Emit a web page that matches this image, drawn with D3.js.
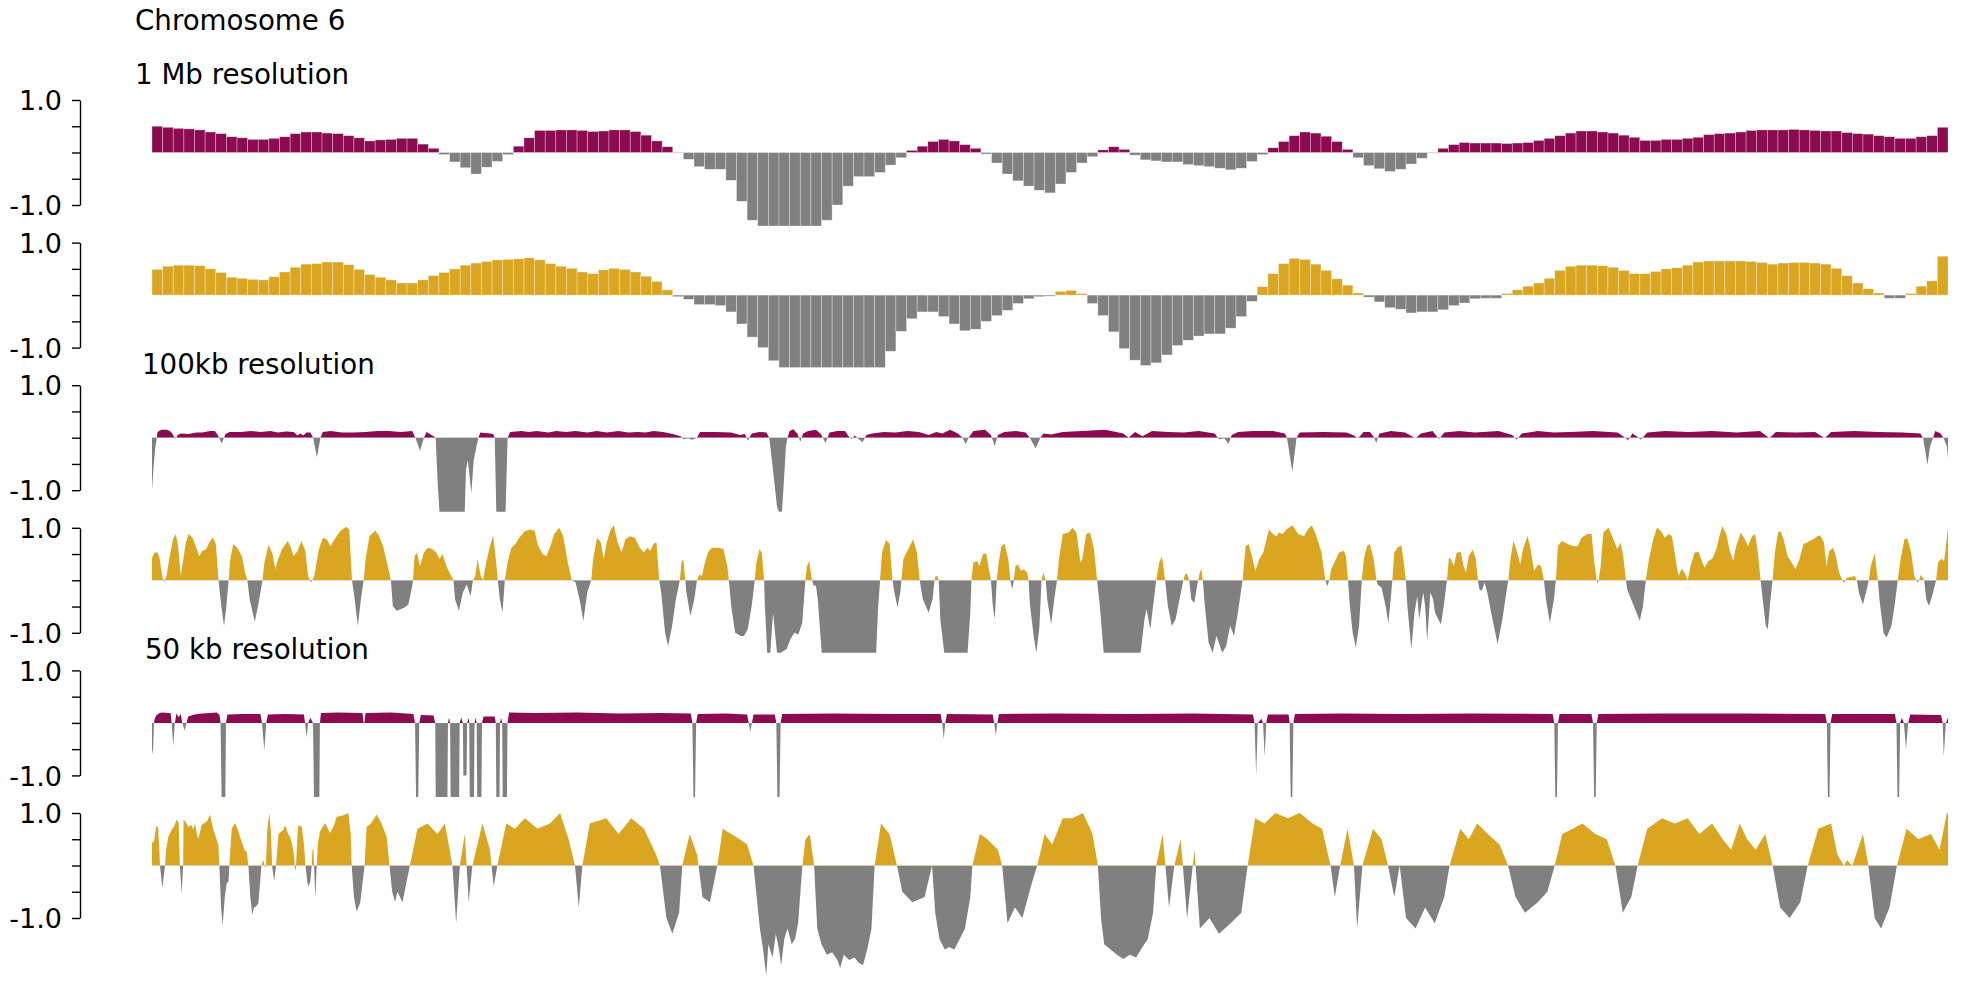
<!DOCTYPE html>
<html><head><meta charset="utf-8">
<script src="https://cdn.jsdelivr.net/npm/d3@7"></script>
<style>body{margin:0;background:#fff}</style>
</head><body>
<script>
// ---------------- DATA ----------------
const chromosomeTitle = "Chromosome 6";
const sectionLabels = ["1 Mb resolution", "100kb resolution", "50 kb resolution"];
const tickValues = [1.0, 0.5, 0, -0.5, -1.0];
const tickLabels = ["1.0", "", "", "", "-1.0"];
const chromLengthMb = 169;

// 1 Mb bins (169 bins), track A (magenta) and track B (gold)
const mb1_A = [0.50,0.48,0.46,0.45,0.43,0.39,0.36,0.30,0.28,0.25,
0.25,0.27,0.30,0.36,0.39,0.39,0.37,0.36,0.32,0.28,
0.22,0.24,0.25,0.27,0.27,0.16,0.08,-0.04,-0.18,-0.29,
-0.41,-0.28,-0.17,-0.04,0.12,0.28,0.42,0.42,0.43,0.43,
0.42,0.40,0.41,0.43,0.43,0.40,0.33,0.22,0.11,-0.01,
-0.13,-0.27,-0.32,-0.32,-0.53,-0.93,-1.29,-1.40,-1.40,-1.40,
-1.40,-1.40,-1.40,-1.29,-1.00,-0.64,-0.46,-0.46,-0.38,-0.24,
-0.10,0.04,0.12,0.21,0.25,0.22,0.15,0.08,-0.03,-0.20,
-0.41,-0.54,-0.64,-0.72,-0.77,-0.60,-0.38,-0.20,-0.08,0.05,
0.11,0.06,-0.05,-0.14,-0.16,-0.18,-0.18,-0.23,-0.25,-0.27,
-0.30,-0.33,-0.30,-0.17,-0.04,0.09,0.21,0.32,0.39,0.37,
0.31,0.21,0.06,-0.10,-0.25,-0.31,-0.36,-0.32,-0.22,-0.11,
-0.01,0.08,0.15,0.19,0.18,0.18,0.18,0.17,0.18,0.19,
0.23,0.27,0.32,0.37,0.41,0.41,0.39,0.37,0.33,0.29,
0.23,0.23,0.25,0.25,0.27,0.29,0.34,0.36,0.37,0.39,
0.42,0.43,0.43,0.43,0.44,0.43,0.42,0.41,0.41,0.38,
0.36,0.35,0.32,0.30,0.27,0.27,0.30,0.32,0.48];

const mb1_B = [0.49,0.55,0.57,0.57,0.56,0.50,0.43,0.34,0.32,0.30,
0.29,0.35,0.44,0.53,0.59,0.60,0.63,0.63,0.58,0.49,
0.39,0.34,0.29,0.23,0.23,0.29,0.37,0.43,0.50,0.57,
0.61,0.64,0.67,0.68,0.69,0.71,0.67,0.60,0.55,0.51,
0.44,0.41,0.48,0.51,0.49,0.44,0.36,0.26,0.10,-0.03,
-0.08,-0.18,-0.18,-0.20,-0.32,-0.55,-0.80,-1.00,-1.25,-1.38,
-1.38,-1.38,-1.38,-1.38,-1.38,-1.38,-1.38,-1.38,-1.38,-1.07,
-0.69,-0.45,-0.32,-0.32,-0.41,-0.55,-0.68,-0.65,-0.50,-0.39,
-0.29,-0.16,-0.07,-0.03,-0.02,0.07,0.09,0.03,-0.16,-0.39,
-0.70,-1.02,-1.24,-1.34,-1.29,-1.14,-0.96,-0.86,-0.78,-0.74,
-0.74,-0.63,-0.41,-0.12,0.16,0.41,0.60,0.70,0.68,0.59,
0.47,0.31,0.19,0.04,-0.04,-0.13,-0.24,-0.27,-0.34,-0.32,
-0.32,-0.28,-0.20,-0.15,-0.07,-0.06,-0.06,0.03,0.10,0.17,
0.23,0.32,0.47,0.55,0.57,0.57,0.56,0.53,0.47,0.41,
0.41,0.45,0.50,0.52,0.57,0.63,0.65,0.65,0.65,0.65,
0.64,0.62,0.59,0.61,0.62,0.62,0.61,0.59,0.51,0.37,
0.23,0.12,0.04,-0.06,-0.06,0.03,0.17,0.27,0.74];

// 100 kb profile, [position Mb, value]
const kb100_A = [[0,-1.0],[0.15,-0.55],[0.3,-0.2],[0.45,0],[0.52,0.11],[0.88,0.15],[1.43,0.15],[1.8,0.11],[2.09,0.02],[2.24,-0.03],[2.42,0.05],[2.71,0.08],[3.45,0.07],[4.18,0.1],[4.73,0.1],[5.46,0.13],[5.9,0.13],[6.19,0.05],[6.56,-0.11],[6.92,0.07],[7.29,0.11],[8.39,0.11],[9.3,0.13],[10.22,0.11],[11.13,0.13],[11.86,0.1],[12.6,0.12],[13.33,0.11],[13.69,0.04],[13.95,0.08],[14.24,0.04],[14.53,0.1],[14.9,0.1],[15.16,0],[15.52,-0.37],[15.85,0],[16.07,0.11],[16.8,0.13],[17.9,0.1],[19.0,0.1],[20.1,0.11],[21.2,0.13],[22.3,0.13],[23.4,0.11],[24.49,0.13],[24.78,0],[25.22,-0.25],[25.59,0],[25.84,0.11],[26.14,0.07],[26.5,0.03],[26.69,0],[26.9,-0.93],[27.05,-1.41],[29.43,-1.41],[29.54,-0.62],[29.72,-0.43],[30.05,-1.06],[30.27,-0.43],[30.53,-0.17],[30.71,0],[30.9,0.1],[31.81,0.08],[32.1,0.07],[32.25,0],[32.4,-1.41],[33.27,-1.41],[33.46,0],[33.71,0.11],[34.74,0.13],[35.47,0.11],[36.2,0.13],[37.3,0.1],[38.03,0.13],[38.95,0.11],[39.86,0.13],[40.96,0.1],[41.87,0.13],[42.79,0.1],[43.89,0.13],[44.8,0.1],[45.72,0.11],[46.45,0.1],[47.18,0.13],[48.1,0.11],[49.0,0.07],[49.74,0.03],[50.0,-0.03],[50.5,-0.01],[50.8,-0.04],[51.28,0],[51.57,0.11],[53.0,0.11],[54.5,0.1],[55.33,0.05],[55.8,0.07],[56.06,-0.06],[56.43,0.08],[57.16,0.11],[57.82,0.1],[58.08,0],[58.44,-0.62],[58.81,-1.31],[58.99,-1.41],[59.28,-1.41],[59.43,-0.93],[59.65,-0.17],[59.8,0],[60.0,0.13],[60.35,0.16],[60.75,0.07],[61.0,-0.08],[61.26,0.08],[61.74,0.13],[62.47,0.15],[62.94,0.07],[63.38,-0.1],[63.75,0.1],[64.48,0.13],[65.21,0.13],[65.58,0.02],[65.83,-0.03],[66.13,0.04],[66.49,-0.03],[66.86,-0.08],[67.23,0.05],[67.77,0.08],[68.87,0.11],[69.97,0.1],[71.07,0.13],[72.17,0.11],[73.08,0.05],[73.81,0.11],[74.36,0.08],[75.1,0.15],[75.83,0.08],[76.27,0],[76.56,-0.12],[76.85,0],[77.29,0.13],[78.39,0.15],[78.94,0.05],[79.3,-0.16],[79.6,0.05],[80.2,0.11],[81.3,0.13],[82.2,0.1],[82.6,0],[83.15,-0.2],[83.6,0],[83.9,0.08],[84.6,0.06],[85.7,0.11],[87.5,0.13],[89.7,0.15],[91.4,0.08],[91.9,0],[92.5,0.11],[93.2,0.03],[94.1,0.13],[95.6,0.11],[97.1,0.1],[98.5,0.13],[100.0,0.08],[100.4,-0.03],[100.9,-0.01],[101.3,-0.12],[101.6,0.05],[102.2,0.11],[103.6,0.13],[105.5,0.13],[106.6,0.08],[106.8,0],[107.3,-0.65],[107.7,0],[108.0,0.1],[110.2,0.11],[112.4,0.1],[113.0,0.05],[113.5,-0.01],[114.0,0.11],[114.6,0.11],[114.96,0.02],[115.2,-0.1],[115.5,0.08],[116.6,0.13],[117.9,0.1],[118.9,-0.01],[119.4,0.08],[120.5,0.13],[121.1,-0.03],[121.6,0.1],[123.0,0.13],[124.5,0.1],[126.7,0.13],[128.0,0.05],[128.4,-0.04],[128.9,0.08],[130.4,0.13],[131.9,0.1],[133.4,0.11],[135.6,0.13],[137.9,0.1],[138.5,0.02],[138.9,-0.06],[139.3,0.08],[139.7,0.03],[140.1,-0.04],[140.7,0.1],[142.4,0.13],[144.6,0.11],[146.8,0.13],[149.1,0.1],[151.3,0.13],[152.2,-0.01],[152.8,0.11],[154.6,0.1],[156.5,0.11],[157.4,-0.01],[158.0,0.11],[160.2,0.13],[162.5,0.11],[164.7,0.1],[166.4,0.08],[166.65,0],[166.9,-0.3],[167.06,-0.52],[167.3,-0.17],[167.6,0],[167.8,0.13],[168.3,0.08],[168.6,-0.01],[168.9,-0.17],[169.0,-0.41]];

const kb100_B = [[0,0.43],[0.26,0.53],[0.52,0.53],[0.7,0.43],[0.96,0.08],[1.14,-0.03],[1.36,0.08],[1.62,0.4],[1.98,0.78],[2.24,0.88],[2.46,0.65],[2.71,0.08],[2.9,0.34],[3.19,0.72],[3.45,0.88],[3.81,0.81],[4.18,0.62],[4.43,0.46],[4.73,0.56],[5.09,0.59],[5.46,0.75],[5.75,0.81],[6.01,0.69],[6.26,0],[6.52,-0.49],[6.78,-0.87],[7.0,-0.49],[7.21,0],[7.36,0.4],[7.65,0.69],[8.02,0.62],[8.46,0.46],[8.75,0.15],[8.97,0],[9.19,-0.36],[9.67,-0.79],[10.03,-0.43],[10.4,0],[10.58,0.34],[10.95,0.67],[11.31,0.53],[11.61,0.21],[11.86,0.4],[12.23,0.59],[12.78,0.75],[13.07,0.62],[13.33,0.46],[13.69,0.56],[14.06,0.75],[14.43,0.56],[14.68,0.08],[14.97,-0.04],[15.27,0.08],[15.71,0.59],[16.07,0.81],[16.44,0.78],[16.8,0.65],[17.17,0.78],[17.72,0.94],[18.27,1.02],[18.56,0.97],[18.82,0],[19.07,-0.36],[19.37,-0.87],[19.66,-0.36],[19.92,0],[20.1,0.4],[20.46,0.84],[21.01,0.95],[21.38,0.84],[21.75,0.65],[22.11,0.34],[22.48,0],[22.66,-0.49],[23.03,-0.58],[23.39,-0.55],[23.76,-0.52],[24.12,-0.46],[24.49,-0.11],[24.56,0],[24.71,0.46],[24.93,0.53],[25.22,0.27],[25.59,0.53],[25.95,0.62],[26.32,0.6],[26.76,0.53],[27.05,0.4],[27.34,0.5],[27.71,0.27],[28.15,0.08],[28.37,0],[28.52,-0.36],[28.88,-0.58],[29.25,-0.23],[29.61,-0.08],[29.98,-0.3],[30.2,0],[30.42,0.08],[30.64,0.4],[30.93,0.08],[31.15,0],[31.44,0.34],[31.81,0.65],[32.1,0.86],[32.36,0.4],[32.54,0],[32.73,-0.36],[32.98,-0.62],[33.2,0],[33.46,0.34],[33.82,0.62],[34.19,0.69],[34.55,0.81],[35.1,0.94],[35.65,0.97],[36.02,0.94],[36.27,0.69],[36.75,0.5],[37.12,0.46],[37.48,0.65],[37.85,0.88],[38.32,1.0],[38.69,0.84],[39.13,0.34],[39.5,0],[39.86,-0.04],[40.23,-0.36],[40.59,-0.77],[40.96,-0.23],[41.33,0],[41.51,0.4],[41.88,0.81],[42.24,0.72],[42.5,0.4],[42.79,0.72],[43.16,0.97],[43.45,1.05],[43.82,0.72],[44.18,0.53],[44.55,0.78],[44.99,0.84],[45.43,0.81],[45.9,0.62],[46.27,0.53],[46.63,0.62],[46.89,0.56],[47.18,0.69],[47.47,0.72],[47.73,0],[47.91,-0.23],[48.28,-1.0],[48.57,-1.25],[48.94,-0.87],[49.3,-0.36],[49.67,0],[49.82,0.34],[50.0,0.4],[50.18,0],[50.29,-0.23],[50.66,-0.68],[51.03,-0.36],[51.28,0],[51.5,0.11],[51.76,0.08],[51.94,0.27],[52.31,0.53],[52.67,0.62],[53.4,0.62],[53.77,0.59],[54.14,0.27],[54.28,0],[54.5,-0.49],[54.87,-1.0],[55.42,-1.06],[55.7,-1.06],[56.06,-0.93],[56.43,-0.49],[56.72,0],[56.87,0.34],[57.16,0.59],[57.38,0.53],[57.6,0],[57.67,-0.49],[57.89,-1.38],[58.18,-1.38],[58.44,-0.62],[58.81,-1.38],[59.17,-1.38],[59.72,-1.31],[60.09,-1.12],[60.45,-1.0],[60.82,-1.03],[61.19,-0.81],[61.48,0],[61.63,0.27],[61.84,0.37],[62.1,0],[62.28,-0.11],[62.47,-0.1],[62.65,-0.36],[63.02,-1.38],[68.14,-1.38],[68.32,-0.55],[68.51,0],[68.69,0.53],[69.06,0.77],[69.42,0.69],[69.68,0],[69.86,-0.23],[70.15,-0.52],[70.41,-0.23],[70.52,0],[70.7,0.4],[71.07,0.56],[71.62,0.78],[71.98,0.53],[72.24,0],[72.53,-0.36],[73.08,-0.62],[73.45,-0.36],[73.63,0],[73.74,0.08],[73.89,0.08],[74.03,0],[74.18,-0.74],[74.55,-1.38],[76.74,-1.38],[77.0,-0.62],[77.11,0],[77.29,0.34],[77.66,0.37],[77.84,0.27],[78.2,0.5],[78.5,0.51],[78.75,0.21],[78.94,0],[79.12,-0.49],[79.3,-0.74],[79.49,0],[79.67,0.34],[79.93,0.65],[80.22,0.7],[80.58,0.4],[80.77,0],[80.95,-0.17],[81.1,0],[81.24,0.27],[81.5,0.3],[81.76,0.18],[82.05,0.21],[82.34,0.15],[82.49,0],[82.6,-0.43],[82.96,-1.06],[83.22,-1.38],[83.51,-0.87],[83.7,0],[83.88,0.15],[84.1,0],[84.24,-0.36],[84.61,-0.84],[84.9,-0.36],[85.16,0],[85.34,0.4],[85.71,0.88],[86.26,0.91],[86.62,1.0],[86.99,0.91],[87.36,0.34],[87.54,0.4],[87.9,0.88],[88.27,0.91],[88.64,0.59],[88.93,0],[89.19,-0.49],[89.55,-1.38],[93.03,-1.38],[93.39,-0.74],[93.58,-0.55],[93.94,-0.93],[94.2,-0.49],[94.49,0],[94.78,0.34],[95.04,0.46],[95.33,0],[95.59,-0.49],[95.96,-0.87],[96.32,-0.74],[96.69,-0.36],[97.05,0],[97.24,0.13],[97.42,0.11],[97.6,0],[97.79,-0.36],[98.08,-0.43],[98.34,-0.11],[98.44,0],[98.59,0.15],[98.74,0.21],[98.88,0],[99.07,-0.49],[99.43,-1.19],[99.8,-1.38],[100.16,-1.06],[100.71,-1.38],[101.08,-1.25],[101.45,-0.87],[101.81,-1.06],[102.18,-0.62],[102.62,0],[102.91,0.65],[103.2,0.69],[103.57,0.4],[103.83,0.18],[104.19,0.4],[104.56,0.53],[105.11,0.97],[105.47,0.88],[105.84,0.84],[106.02,0.91],[106.39,0.88],[106.75,0.97],[107.3,1.05],[107.85,0.88],[108.4,0.84],[108.77,0.97],[109.13,1.05],[109.5,0.88],[110.05,0.53],[110.41,0],[110.6,-0.11],[110.78,0],[110.96,0.21],[111.33,0.37],[111.69,0.53],[112.16,0.56],[112.35,0.46],[112.54,0],[112.72,-0.49],[112.98,-1.0],[113.28,-1.28],[113.58,-0.87],[113.84,0],[114.03,0.4],[114.32,0.65],[114.59,0.69],[114.96,0.4],[115.22,0],[115.33,-0.08],[115.7,-0.14],[116.08,-0.49],[116.34,-0.82],[116.56,-0.36],[116.71,0],[116.9,0.53],[117.19,0.62],[117.57,0.67],[117.83,0.27],[117.98,0],[118.13,-0.49],[118.5,-1.31],[118.8,-0.62],[119.06,-0.3],[119.24,-0.74],[119.62,-0.23],[119.8,-0.49],[119.99,-1.16],[120.29,-0.23],[120.55,-0.36],[120.73,-0.62],[121.03,-0.74],[121.29,-0.84],[121.55,-0.49],[121.85,0],[122.04,0.43],[122.23,0.4],[122.49,0.27],[122.78,0.53],[123.16,0.54],[123.42,0.27],[123.64,0.15],[123.9,0.46],[124.28,0.58],[124.57,0.4],[124.76,0],[124.91,-0.17],[125.13,-0.2],[125.39,-0.04],[125.65,-0.23],[125.95,-0.55],[126.33,-0.93],[126.62,-1.22],[127.07,-0.74],[127.44,-0.23],[127.63,0],[127.82,0.4],[128.11,0.75],[128.38,0.59],[128.75,0.3],[129.01,0.59],[129.42,0.84],[129.68,0.65],[130.05,0.18],[130.43,0.3],[130.72,0.27],[130.98,0],[131.17,-0.36],[131.54,-0.81],[131.92,-0.36],[132.1,0],[132.29,0.65],[132.66,0.75],[133.22,0.69],[133.78,0.65],[134.15,0.65],[134.52,0.81],[135.08,0.88],[135.46,0.88],[135.72,0.34],[135.94,0],[136.02,-0.06],[136.13,0],[136.31,0.27],[136.57,0.91],[137.06,1.0],[137.51,0.78],[137.88,0.59],[138.18,0.72],[138.44,0.46],[138.7,0],[138.81,-0.17],[139.18,-0.36],[139.56,-0.55],[140.0,-0.77],[140.3,-0.49],[140.56,0],[140.86,0.4],[141.23,0.75],[141.61,1.0],[141.98,0.94],[142.35,0.81],[142.72,0.88],[143.02,0.84],[143.28,0.53],[143.47,0.27],[143.66,0.08],[143.92,0.22],[144.21,0.15],[144.51,0],[144.77,0.27],[145.15,0.53],[145.52,0.54],[145.78,0.4],[146.08,0.24],[146.45,0.37],[146.82,0.41],[147.2,0.59],[147.49,0.84],[147.76,1.03],[148.13,0.88],[148.5,0.53],[148.8,0.37],[149.06,0.65],[149.51,0.91],[149.88,0.78],[150.18,0.65],[150.55,0.84],[150.85,0.88],[151.11,0.53],[151.37,0],[151.56,-0.36],[151.86,-0.87],[152.04,-0.93],[152.3,-0.36],[152.49,0],[152.71,0.53],[153.01,0.91],[153.23,0.94],[153.53,0.78],[153.9,0.46],[154.28,0.34],[154.65,0.21],[155.02,0.4],[155.4,0.69],[155.77,0.72],[155.95,0.75],[156.33,0.78],[156.7,0.84],[156.96,0.86],[157.33,0.72],[157.56,0.27],[157.82,0.56],[158.19,0.62],[158.45,0.46],[158.75,0.15],[159.05,0],[159.2,-0.04],[159.35,0],[159.5,0.05],[160.24,0.08],[160.43,0],[160.61,-0.23],[160.99,-0.46],[161.36,-0.17],[161.55,0],[161.73,0.27],[162.1,0.51],[162.4,0],[162.55,-0.36],[162.93,-1.0],[163.22,-1.09],[163.67,-0.87],[163.97,-0.49],[164.27,0],[164.53,0.4],[164.9,0.78],[165.16,0.8],[165.53,0.53],[165.83,0.08],[166.02,0],[166.13,-0.04],[166.28,0],[166.43,0.1],[166.62,0.05],[166.76,0],[166.95,-0.36],[167.21,-0.49],[167.51,-0.3],[167.88,0],[168.07,0.34],[168.37,0.41],[168.63,0.37],[168.81,0.65],[169.0,1.03]];

// 50 kb profile, [position Mb, value]
const kb50_A = [[0,-0.6],[0.1,-0.5],[0.19,0],[0.25,0.08],[0.4,0.14],[0.7,0.19],[1.0,0.2],[1.5,0.19],[1.75,0.19],[1.85,0],[2.0,-0.44],[2.15,0],[2.3,0.18],[2.5,0.11],[2.7,0.17],[2.85,0],[3.07,-0.15],[3.25,0],[3.4,0.12],[4.0,0.16],[4.7,0.18],[5.5,0.19],[6.1,0.2],[6.35,0.15],[6.45,0],[6.55,-1.41],[6.9,-1.41],[6.96,0],[7.1,0.16],[8.5,0.17],[10.2,0.17],[10.35,0],[10.57,-0.52],[10.75,0],[10.9,0.16],[12.5,0.17],[14.3,0.16],[14.4,0],[14.55,-0.28],[14.7,0],[14.9,0.1],[15.15,0],[15.24,-1.41],[15.75,-1.41],[15.8,0],[15.9,0.19],[17.5,0.2],[19.8,0.19],[19.95,-0.05],[20.1,0.19],[22.5,0.2],[24.6,0.17],[24.75,0],[24.85,-1.41],[25.05,-1.41],[25.15,0],[25.3,0.15],[26.5,0.14],[26.65,0],[26.7,-1.41],[27.8,-1.41],[27.85,0],[27.95,0.1],[28.05,0],[28.1,-1.41],[28.9,-1.41],[28.95,0],[29.1,0.1],[29.25,0],[29.3,-1.0],[29.6,-1.0],[29.65,0],[29.8,0.1],[29.85,0],[29.9,-1.41],[30.3,-1.41],[30.35,0],[30.45,0.1],[30.55,0],[30.6,-1.41],[31.0,-1.41],[31.05,0],[31.2,0.12],[32.25,0.12],[32.35,0],[32.4,-1.41],[32.7,-1.41],[32.75,0],[32.85,0.1],[32.95,0],[33.0,-1.41],[33.4,-1.41],[33.45,0],[33.6,0.2],[36.0,0.19],[40.0,0.2],[44.0,0.18],[48.0,0.19],[50.7,0.18],[50.85,0],[50.95,-1.41],[51.1,-1.41],[51.2,0],[51.35,0.17],[54.0,0.18],[56.0,0.16],[56.15,0],[56.3,-0.17],[56.45,0],[56.6,0.16],[58.6,0.16],[58.75,0],[58.85,-1.41],[59.05,-1.41],[59.15,0],[59.3,0.17],[64.0,0.18],[70.0,0.17],[74.2,0.17],[74.35,0],[74.5,-0.3],[74.65,0],[74.8,0.17],[79.1,0.16],[79.25,0],[79.4,-0.24],[79.55,0],[79.7,0.17],[85.0,0.18],[92.0,0.17],[98.0,0.18],[103.6,0.16],[103.75,0],[103.9,-1.0],[104.05,0],[104.4,0.08],[104.55,0],[104.7,-0.64],[104.85,0],[105.0,0.16],[106.95,0.16],[107.05,0],[107.15,-1.41],[107.3,-1.41],[107.4,0],[107.55,0.17],[112.0,0.18],[118.0,0.17],[124.0,0.18],[131.8,0.17],[131.95,0],[132.05,-1.41],[132.2,-1.41],[132.3,0],[132.45,0.17],[135.45,0.17],[135.6,0],[135.7,-1.41],[135.85,-1.41],[135.95,0],[136.1,0.17],[142.0,0.18],[150.0,0.18],[157.45,0.17],[157.6,0],[157.7,-1.41],[157.85,-1.41],[157.95,0],[158.1,0.17],[164.0,0.17],[164.15,0],[164.25,-1.41],[164.4,-1.41],[164.5,0],[164.65,0.1],[164.85,0],[165.05,-0.5],[165.25,0],[165.45,0.16],[168.35,0.15],[168.5,0],[168.6,-0.64],[168.8,0],[169,0.1]];

const kb50_B = [[0,0.43],[0.19,0.46],[0.38,0.74],[0.57,0.74],[0.69,0.3],[0.75,0],[0.97,-0.43],[1.23,0],[1.32,0.3],[1.54,0.55],[1.85,0.68],[2.07,0.74],[2.32,0.87],[2.51,0.81],[2.62,0],[2.79,-0.53],[2.93,0],[2.97,0.87],[3.14,0.84],[3.42,0.74],[3.73,0.77],[3.89,0.68],[4.05,0.81],[4.2,0.62],[4.36,0.5],[4.68,0.77],[5.2,0.85],[5.46,0.97],[5.77,0.68],[6.24,0.4],[6.34,0],[6.5,-0.8],[6.65,-1.14],[6.85,-0.6],[7.03,-0.34],[7.2,-0.3],[7.28,0],[7.5,0.7],[7.81,0.81],[8.05,0.7],[8.28,0.55],[8.75,0.27],[8.91,0.27],[9.07,0],[9.25,-0.6],[9.44,-0.94],[9.6,-0.8],[9.79,-0.78],[10.01,-0.72],[10.3,0],[10.45,0.11],[10.6,0],[10.64,-0.05],[10.72,0],[10.85,0.7],[11.04,1.0],[11.2,0.6],[11.3,0],[11.5,-0.3],[11.67,0],[11.9,0.6],[12.36,0.68],[12.52,0.77],[12.8,0.6],[12.99,0.55],[13.3,0.3],[13.43,0],[13.49,-0.11],[13.55,0],[13.7,0.6],[13.77,0.77],[14.09,0.74],[14.3,0.4],[14.45,0],[14.6,-0.3],[14.71,-0.4],[14.9,-0.3],[15.03,0],[15.1,0.3],[15.2,0.3],[15.25,0],[15.37,-0.62],[15.5,0],[15.6,0.4],[15.81,0.65],[16.28,0.81],[16.75,0.62],[17.1,0.75],[17.38,0.93],[17.9,0.95],[18.48,1.0],[18.7,0.6],[18.79,0],[19.0,-0.6],[19.26,-0.88],[19.6,-0.7],[20.0,0],[20.2,0.74],[20.6,0.8],[21.14,0.97],[21.6,0.8],[22.08,0.55],[22.35,0],[22.6,-0.5],[22.87,-0.69],[23.1,-0.5],[23.57,-0.7],[24.27,0],[24.98,0.7],[25.92,0.8],[26.86,0.6],[27.56,0.8],[28.27,0],[28.62,-1.1],[28.97,0],[29.44,0.6],[29.8,-0.7],[30.15,0],[31.1,0.8],[31.8,0.3],[32.15,-0.4],[32.5,0],[33.33,0.8],[34.15,0.7],[35.1,0.9],[36.27,0.7],[37.45,0.8],[38.4,1.0],[39.2,0.5],[39.8,0],[40.16,-0.8],[40.5,0],[41.2,0.8],[42.75,0.9],[43.9,0.6],[45.1,0.9],[46.3,0.7],[47.45,0.2],[47.8,0],[48.4,-1.0],[48.97,-1.3],[49.6,-0.9],[49.9,0],[50.6,0.6],[51.3,0.2],[51.8,-0.6],[52.5,-0.7],[53.2,0],[53.7,0.7],[54.5,0.6],[55.3,0.5],[56.0,0.4],[56.6,0],[56.9,-0.6],[57.2,-1.2],[57.5,-1.6],[57.8,-2.1],[58.0,-1.5],[58.4,-1.75],[58.7,-1.3],[59.0,-1.6],[59.2,-1.9],[59.5,-1.4],[59.8,-1.2],[60.2,-1.5],[60.5,-1.4],[60.8,-1.1],[61.2,0],[61.5,0.5],[61.9,0.6],[62.3,0],[62.6,-1.2],[63.0,-1.5],[63.5,-1.7],[64.0,-1.65],[64.5,-1.8],[64.75,-1.95],[65.1,-1.7],[65.6,-1.8],[66.1,-1.75],[66.5,-1.85],[66.9,-1.9],[67.3,-1.6],[67.7,-1.2],[68.0,0],[68.6,0.8],[69.4,0.6],[70.1,0],[70.6,-0.5],[71.55,-0.7],[72.7,-0.6],[73.4,0],[73.7,-0.9],[74.1,-1.4],[74.6,-1.6],[75.0,-1.55],[75.5,-1.6],[76.0,-1.4],[76.5,-1.2],[77.0,-0.6],[77.2,0],[77.9,0.6],[78.6,0.5],[79.6,0.3],[80.0,0],[80.5,-1.1],[81.2,-0.8],[81.9,-1.0],[82.7,-0.4],[83.3,0],[84.0,0.6],[84.7,0.4],[85.7,0.9],[86.6,0.9],[87.6,1.0],[88.5,0.6],[89.0,0],[89.3,-1.0],[89.6,-1.5],[90.2,-1.6],[90.8,-1.7],[91.4,-1.78],[92.0,-1.7],[92.6,-1.75],[93.2,-1.55],[93.7,-1.4],[94.2,-0.9],[94.5,0],[95.1,0.6],[95.7,-0.8],[96.2,0],[96.8,0.5],[97.4,-1.0],[98.1,0.3],[98.6,-1.2],[99.5,-1.0],[100.4,-1.3],[101.5,-1.1],[102.5,-0.9],[103.1,0],[103.8,0.9],[104.7,0.8],[105.7,1.0],[106.9,0.9],[108.0,1.0],[109.2,0.8],[110.1,0.7],[110.9,0],[111.3,-0.6],[111.8,0],[112.5,0.7],[113.1,0],[113.4,-1.2],[113.9,0],[114.9,0.7],[115.7,0.5],[116.3,0],[116.9,-0.6],[117.4,0],[118.0,-1.0],[118.9,-1.2],[119.8,-0.8],[120.7,-1.1],[121.6,-0.6],[122.1,0],[123.1,0.7],[123.9,0.5],[124.7,0.8],[125.7,0.6],[126.8,0.4],[127.6,0],[128.3,-0.6],[129.2,-0.9],[130.4,-0.7],[131.3,-0.5],[132.0,0],[132.7,0.6],[133.7,0.7],[134.6,0.8],[135.8,0.6],[136.9,0.5],[137.7,0],[138.4,-0.9],[139.2,-0.6],[139.8,0],[140.7,0.7],[142.1,0.9],[143.3,0.8],[144.5,0.9],[145.6,0.6],[146.8,0.8],[147.8,0.5],[148.6,0.3],[149.4,0.8],[150.1,0.5],[150.9,0.3],[151.8,0.6],[152.5,0],[153.2,-0.8],[154.1,-1.0],[155.1,-0.7],[155.8,0],[156.8,0.7],[158.0,0.8],[158.6,0.2],[159.2,0],[159.5,0.1],[160.0,0],[161.0,0.6],[161.5,0],[162.1,-1.0],[162.7,-1.2],[163.5,-0.8],[164.2,0],[165.1,0.7],[166.2,0.5],[167.4,0.6],[168.2,0.3],[168.9,1.0],[169,1.0]];

// ---------------- LAYOUT / STYLE ----------------
const W = 1961, H = 987;
const COL = { neg: "#808080", mag: "#8B0A50", gold: "#DAA520" };
const FONT = "DejaVu Sans";
const trackTop0 = 100, trackStep = 142.6, trackH = 105;

const svg = d3.select("body").append("svg").attr("width", W).attr("height", H);
const defs = svg.append("defs");
const x = d3.scaleLinear().domain([0, chromLengthMb]).range([152, 1948]);
const yScale = i => d3.scaleLinear().domain([-1, 1]).range([trackTop0 + i * trackStep + trackH, trackTop0 + i * trackStep]);

function drawAxis(i) {
  const y = yScale(i);
  const g = svg.append("g").attr("transform", "translate(80,0)")
    .call(d3.axisLeft(y).tickValues(tickValues)
      .tickFormat((d, k) => tickLabels[k]).tickSize(8).tickSizeOuter(0).tickPadding(10));
  g.attr("font-size", null).attr("font-family", null);
  g.selectAll("text").attr("font-size", 27).attr("font-family", FONT).attr("fill", "#000").attr("dy", "0.36em");
  g.selectAll("line").attr("stroke", "#000").attr("stroke-width", 1.4);
  g.select(".domain").attr("stroke", "#000").attr("stroke-width", 1.4);
}

function drawBars(i, vals, posColor) {
  const y = yScale(i);
  svg.append("g").selectAll("rect").data(vals).join("rect")
    .attr("x", (d, k) => x(k)).attr("width", (d, k) => x(k + 1) - x(k))
    .attr("y", d => y(Math.max(d, 0)))
    .attr("height", d => Math.max(0.6, Math.abs(y(d) - y(0))))
    .attr("fill", d => d >= 0 ? posColor : COL.neg)
    .attr("stroke", "#fff").attr("stroke-opacity", 0.45).attr("stroke-width", 0.7);
}

function drawArea(i, pts, posColor) {
  const y = yScale(i), y0 = y(0);
  const area = d3.area().x(d => x(d[0])).y0(y0).y1(d => y(d[1]));
  defs.append("clipPath").attr("id", "up" + i).append("rect")
    .attr("x", 0).attr("y", 0).attr("width", W).attr("height", y0);
  defs.append("clipPath").attr("id", "dn" + i).append("rect")
    .attr("x", 0).attr("y", y0).attr("width", W).attr("height", H - y0);
  svg.append("path").datum(pts).attr("d", area).attr("fill", posColor).attr("clip-path", `url(#up${i})`);
  svg.append("path").datum(pts).attr("d", area).attr("fill", COL.neg).attr("clip-path", `url(#dn${i})`);
}

for (let i = 0; i < 6; i++) drawAxis(i);
drawBars(0, mb1_A, COL.mag);
drawBars(1, mb1_B, COL.gold);
drawArea(2, kb100_A, COL.mag);
drawArea(3, kb100_B, COL.gold);
drawArea(4, kb50_A, COL.mag);
drawArea(5, kb50_B, COL.gold);

const labels = [
  { t: chromosomeTitle, x: 135, y: 30 },
  { t: sectionLabels[0], x: 135, y: 84 },
  { t: sectionLabels[1], x: 142, y: 374 },
  { t: sectionLabels[2], x: 145, y: 659 }
];
svg.append("g").selectAll("text").data(labels).join("text")
  .attr("x", d => d.x).attr("y", d => d.y).text(d => d.t)
  .attr("font-family", FONT).attr("font-size", 27.7).attr("fill", "#000");
</script>
</body></html>
